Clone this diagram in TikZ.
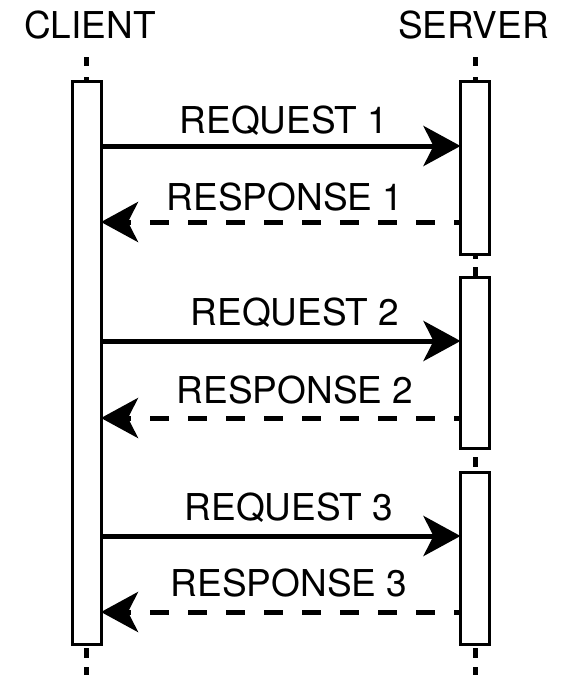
\documentclass[tikz,border=0pt]{standalone}
\usepackage{fontspec}
\setmainfont{TeX Gyre Heros}
\usetikzlibrary{arrows.meta}
\begin{document}
\begin{tikzpicture}[x=1pt,y=-1pt,
  lbl/.style={font=\fontsize{37}{40}\selectfont, anchor=base, inner sep=0pt},
  bar/.style={draw, fill=white, line width=3pt, minimum width=29pt, inner sep=0pt, outer sep=0pt},
  tick/.style={line width=5pt},
  req/.style={line width=5pt, -{Stealth[length=37pt, width=40pt, inset=10pt]}},
  resp/.style={line width=5pt, dash pattern=on 19pt off 19pt, dash phase=12pt,
               -{Stealth[length=37pt, width=40pt, inset=10pt]}}]
\useasboundingbox (0,0) rectangle (562,675);

% headers
\node[lbl] (client) at (90,38) {CLIENT};
\node[lbl] (server) at (473.5,38) {SERVER};

% lifeline fragments above, between and below the activation bars
\draw[tick] (86.5,57) -- (86.5,66) (86.5,77) -- (86.5,82);
\draw[tick] (475,57) -- (475,66) (475,77) -- (475,82);
\draw[tick] (475,254) -- (475,259) (475,267) -- (475,278);
\draw[tick] (475,457) -- (475,467);
\draw[tick] (86.5,648) -- (86.5,658) (86.5,667) -- (86.5,675);
\draw[tick] (475,648) -- (475,658) (475,667) -- (475,675);

% activation bars
\node[bar, minimum height=563pt] (c)  at (86.5,363) {};
\node[bar, minimum height=173pt] (s1) at (475,168) {};
\node[bar, minimum height=171pt] (s2) at (475,363) {};
\node[bar, minimum height=172pt] (s3) at (475,558.5) {};

% messages
\draw[req]  (c.east |- 0,146) -- (s1.west |- 0,146);
\draw[resp] (s1.west |- 0,222) -- (c.east |- 0,222);
\draw[req]  (c.east |- 0,341) -- (s2.west |- 0,341);
\draw[resp] (s2.west |- 0,418) -- (c.east |- 0,418);
\draw[req]  (c.east |- 0,536) -- (s3.west |- 0,536);
\draw[resp] (s3.west |- 0,612) -- (c.east |- 0,612);

% message labels
\node[lbl] (l1) at (284,133) {REQUEST 1};
\node[lbl] (l2) at (285,210) {RESPONSE 1};
\node[lbl] (l3) at (295,325) {REQUEST 2};
\node[lbl] (l4) at (295,403) {RESPONSE 2};
\node[lbl] (l5) at (289,520) {REQUEST 3};
\node[lbl] (l6) at (289,596) {RESPONSE 3};
\end{tikzpicture}
\end{document}
